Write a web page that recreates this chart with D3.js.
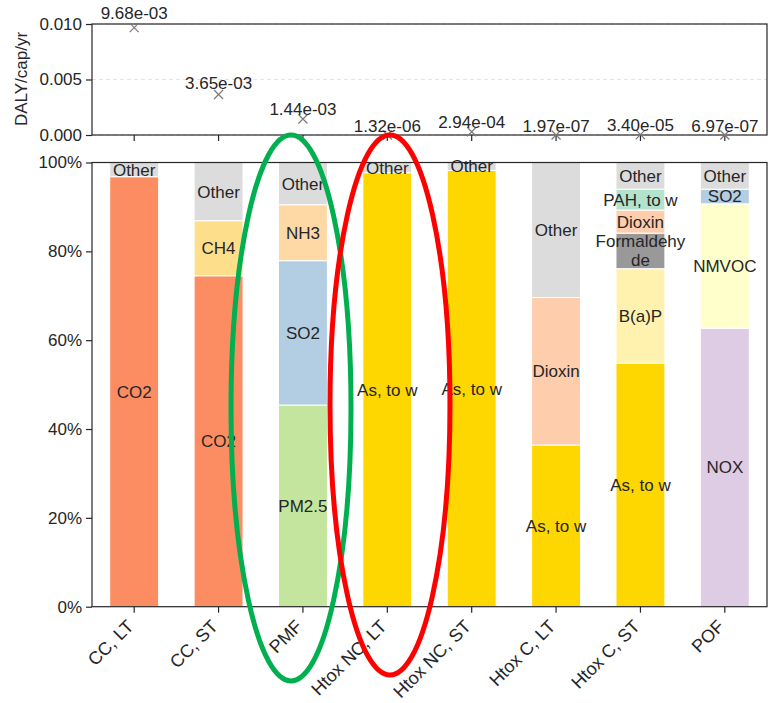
<!DOCTYPE html>
<html>
<head>
<meta charset="utf-8">
<script src="https://cdn.jsdelivr.net/npm/d3@7"></script>
<style>
  body { margin: 0; background: #fff; }
  svg { display: block; }
  text { font-family: "Liberation Sans", Arial, sans-serif; fill: #262626; }
</style>
</head>
<body>
<svg id="chart" width="770" height="703"></svg>
<script>
// ---------------- data ----------------
const categories = ["CC, LT", "CC, ST", "PMF", "Htox NC, LT", "Htox NC, ST", "Htox C, LT", "Htox C, ST", "POF"];
const totals = [9.68e-3, 3.65e-3, 1.44e-3, 1.32e-6, 2.94e-4, 1.97e-7, 3.40e-5, 6.97e-7];
const totalLabels = ["9.68e-03", "3.65e-03", "1.44e-03", "1.32e-06", "2.94e-04", "1.97e-07", "3.40e-05", "6.97e-07"];

// contributions (share of total), bottom to top
const seg_CC_LT   = [["CO2", 0.968], ["Other", 0.032]];
const seg_CC_ST   = [["CO2", 0.745], ["CH4", 0.124], ["Other", 0.131]];
const seg_PMF     = [["PM2.5", 0.454], ["SO2", 0.325], ["NH3", 0.126], ["Other", 0.095]];
const seg_HNC_LT  = [["As, to w", 0.977], ["Other", 0.023]];
const seg_HNC_ST  = [["As, to w", 0.982], ["Other", 0.018]];
const seg_HC_LT   = [["As, to w", 0.364], ["Dioxin", 0.332], ["Other", 0.304]];
const seg_HC_ST   = [["As, to w", 0.548], ["B(a)P", 0.213], ["Formaldehyde", 0.080], ["Dioxin", 0.052], ["PAH, to w", 0.047], ["Other", 0.060]];
const seg_POF     = [["NOX", 0.627], ["NMVOC", 0.280], ["SO2", 0.033], ["Other", 0.060]];
const segments = [seg_CC_LT, seg_CC_ST, seg_PMF, seg_HNC_LT, seg_HNC_ST, seg_HC_LT, seg_HC_ST, seg_POF];

const topTicks = [0, 0.005, 0.010];
const pctTicks = [0, 0.2, 0.4, 0.6, 0.8, 1.0];

const colors = {
  "CO2": "#fc8d62", "CH4": "#fddf8b", "Other": "#dcdcdc",
  "PM2.5": "#c3e59d", "SO2": "#b3cde3", "NH3": "#fed9a6",
  "As, to w": "#ffd700", "Dioxin": "#fdcdac", "B(a)P": "#fff2ae",
  "Formaldehyde": "#999999", "PAH, to w": "#b3e2cd",
  "NOX": "#decbe4", "NMVOC": "#ffffcc"
};

// ---------------- layout ----------------
const svg = d3.select("#chart");
const X0 = 92, X1 = 767;
const x = d3.scaleBand().domain(categories).range([X0, X1]).paddingInner(0.42).paddingOuter(0.21);
const cx = d => x(d) + x.bandwidth() / 2;

const yTop = d3.scaleLinear().domain([0, 0.010]).range([135, 24]);
const yBot = d3.scaleLinear().domain([0, 1]).range([606.7, 162.5]);

const ink = "#262626";
const fs = 17;

// ---------- top panel ----------
const gTop = svg.append("g");
gTop.selectAll("line.grid").data(topTicks).join("line")
  .attr("x1", X0).attr("x2", X1)
  .attr("y1", d => yTop(d)).attr("y2", d => yTop(d))
  .attr("stroke", "#dddddd").attr("stroke-dasharray", "4,3").attr("stroke-width", 0.8);

const yAxTop = d3.axisLeft(yTop).tickValues(topTicks).tickFormat(d3.format(".3f")).tickSize(6).tickPadding(4);
gTop.append("g").attr("transform", `translate(${X0},0)`).call(yAxTop);
const xAxTop = d3.axisBottom(x).tickSize(6).tickFormat("");
gTop.append("g").attr("transform", `translate(0,135)`).call(xAxTop);

gTop.append("rect").attr("x", X0).attr("y", 24).attr("width", X1 - X0).attr("height", 111)
  .attr("fill", "none").attr("stroke", ink).attr("stroke-width", 1.2);

const ms = 4.5;
const mk = gTop.selectAll("g.mk").data(categories).join("g")
  .attr("transform", (d, i) => `translate(${cx(d)},${yTop(totals[i])})`);
mk.append("path").attr("d", `M${-ms},${-ms}L${ms},${ms}M${-ms},${ms}L${ms},${-ms}`)
  .attr("stroke", "#7a7a7a").attr("stroke-width", 1.2);

gTop.selectAll("text.val").data(categories).join("text")
  .attr("class", "val")
  .attr("x", d => cx(d))
  .attr("y", (d, i) => yTop(totals[i] * 1.05 + 0.0003))
  .attr("text-anchor", "middle").attr("font-size", fs)
  .text((d, i) => totalLabels[i]);

gTop.append("text")
  .attr("transform", `translate(27,79) rotate(-90)`)
  .attr("text-anchor", "middle").attr("font-size", fs)
  .text("DALY/cap/yr");

// ---------- bottom panel ----------
const gBot = svg.append("g");
categories.forEach((cat, i) => {
  let acc = 0;
  segments[i].forEach(([name, v]) => {
    const y0 = acc, y1 = acc + v; acc = y1;
    gBot.append("rect")
      .attr("x", x(cat)).attr("width", x.bandwidth())
      .attr("y", yBot(y1)).attr("height", yBot(y0) - yBot(y1))
      .attr("fill", colors[name]).attr("stroke", "#ffffff").attr("stroke-width", 1);
  });
});
categories.forEach((cat, i) => {
  let acc = 0;
  segments[i].forEach(([name, v]) => {
    const mid = acc + v / 2; acc += v;
    const lines = name.length > 10 ? [name.slice(0, 10), name.slice(10)] : [name];
    const t = gBot.append("text")
      .attr("x", cx(cat)).attr("y", yBot(mid))
      .attr("text-anchor", "middle").attr("font-size", fs);
    const n = lines.length;
    lines.forEach((ln, k) => {
      t.append("tspan").attr("x", cx(cat))
        .attr("dy", k === 0 ? `${0.35 - (n - 1) * 0.55}em` : "1.1em")
        .text(ln);
    });
  });
});

const yAxBot = d3.axisLeft(yBot).tickValues(pctTicks).tickFormat(d3.format(".0%")).tickSize(6).tickPadding(4);
gBot.append("g").attr("transform", `translate(${X0},0)`).call(yAxBot);
const xAxBot = d3.axisBottom(x).tickSize(6).tickFormat("");
gBot.append("g").attr("transform", `translate(0,606.7)`).call(xAxBot);

gBot.append("rect").attr("x", X0).attr("y", 162.5).attr("width", X1 - X0).attr("height", 606.7 - 162.5)
  .attr("fill", "none").attr("stroke", ink).attr("stroke-width", 1.2);

svg.selectAll(".domain").attr("stroke", "none");
svg.selectAll(".tick line").attr("stroke", ink).attr("stroke-width", 1.2);
svg.selectAll(".tick text").attr("font-size", fs).attr("fill", ink)
  .attr("font-family", "Liberation Sans, Arial, sans-serif");

gBot.selectAll("text.xl").data(categories).join("text")
  .attr("class", "xl")
  .attr("transform", d => `translate(${cx(d) - 4},${623}) rotate(-45)`)
  .attr("text-anchor", "end").attr("dy", "0.35em").attr("font-size", 18)
  .text(d => d);

// ---------- annotation ellipses ----------
svg.append("ellipse").attr("cx", 291).attr("cy", 408).attr("rx", 60).attr("ry", 273)
  .attr("fill", "none").attr("stroke", "#00b050").attr("stroke-width", 5);
svg.append("ellipse").attr("cx", 390).attr("cy", 405).attr("rx", 60).attr("ry", 270)
  .attr("fill", "none").attr("stroke", "#ff0000").attr("stroke-width", 5);
</script>
</body>
</html>
